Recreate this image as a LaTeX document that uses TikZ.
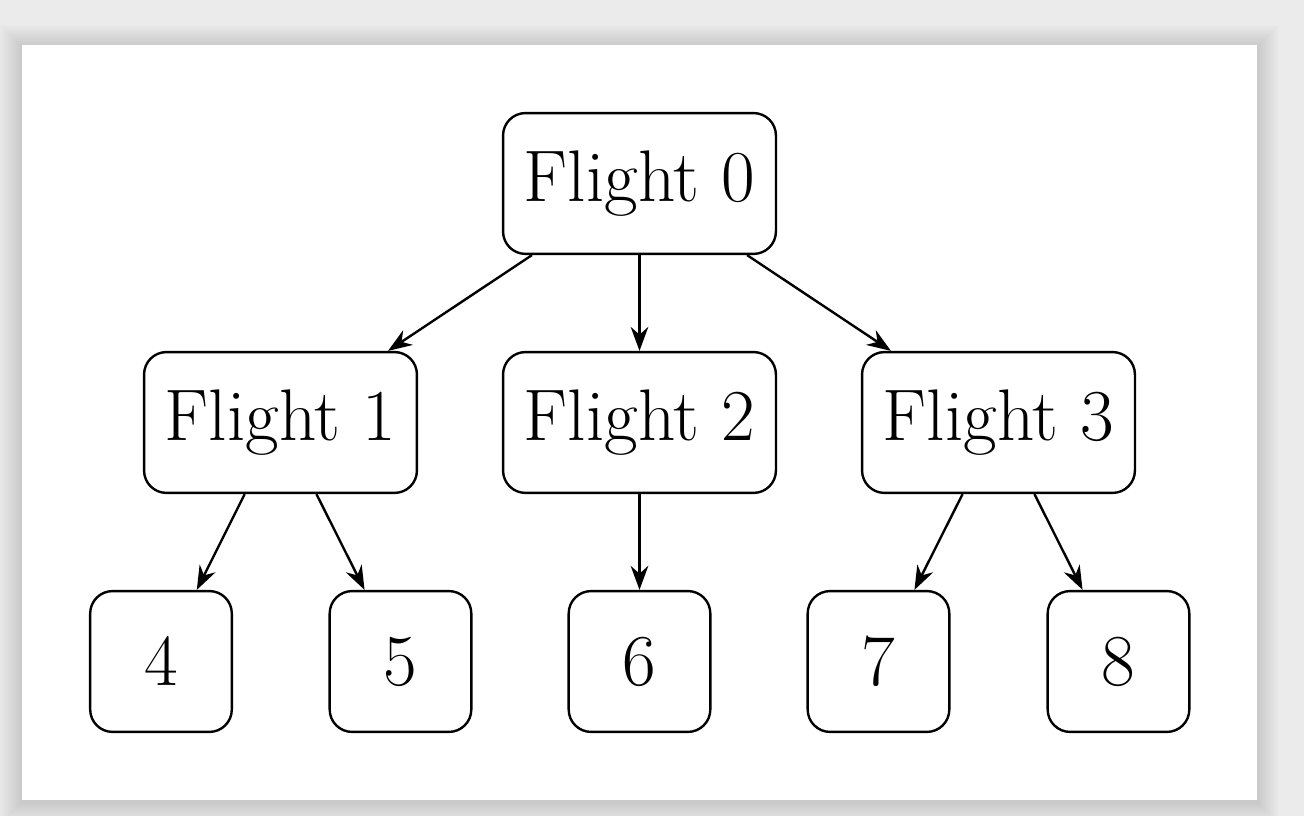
\documentclass[tikz,border=0pt]{standalone}
\usepackage{tikz}
\usetikzlibrary{arrows.meta,positioning}
\definecolor{pagebg}{HTML}{EBEBEB}
\begin{document}
\begin{tikzpicture}[x=0.0125cm, y=-0.0125cm, font=\fontsize{26}{31}\selectfont,
  box/.style={draw, rounded corners=0.28cm, line width=0.85pt, align=center, minimum width=3.41cm, minimum height=1.76cm},
  leaf/.style={box, minimum width=1.77cm},
  arr/.style={-{Stealth[length=0.3cm, width=0.22cm]}, line width=0.85pt}]
\useasboundingbox (0,0) rectangle (1304,816);
% page and shadow
\fill[pagebg] (0,0) rectangle (1304,816);
\foreach \s in {2,4,...,22} {
  \fill[black, opacity=0.012] (22-\s,45-\s+2) rectangle (1257+\s,800+\s+2);
}
\fill[white] (22,45) rectangle (1257,800);
% tree
\node[box] (f0) at (639.5,183.5) {Flight 0};
\node[box] (f1) at (280.5,422.5) {Flight 1};
\node[box] (f2) at (639.5,422.5) {Flight 2};
\node[box] (f3) at (998.5,422.5) {Flight 3};
\node[leaf] (n4) at (161,661.5) {4};
\node[leaf] (n5) at (400.5,661.5) {5};
\node[leaf] (n6) at (639.5,661.5) {6};
\node[leaf] (n7) at (878.5,661.5) {7};
\node[leaf] (n8) at (1118.5,661.5) {8};
\draw[arr] (f0) -- (f1);
\draw[arr] (f0) -- (f2);
\draw[arr] (f0) -- (f3);
\draw[arr] (f1) -- (n4);
\draw[arr] (f1) -- (n5);
\draw[arr] (f2) -- (n6);
\draw[arr] (f3) -- (n7);
\draw[arr] (f3) -- (n8);
\end{tikzpicture}
\end{document}
